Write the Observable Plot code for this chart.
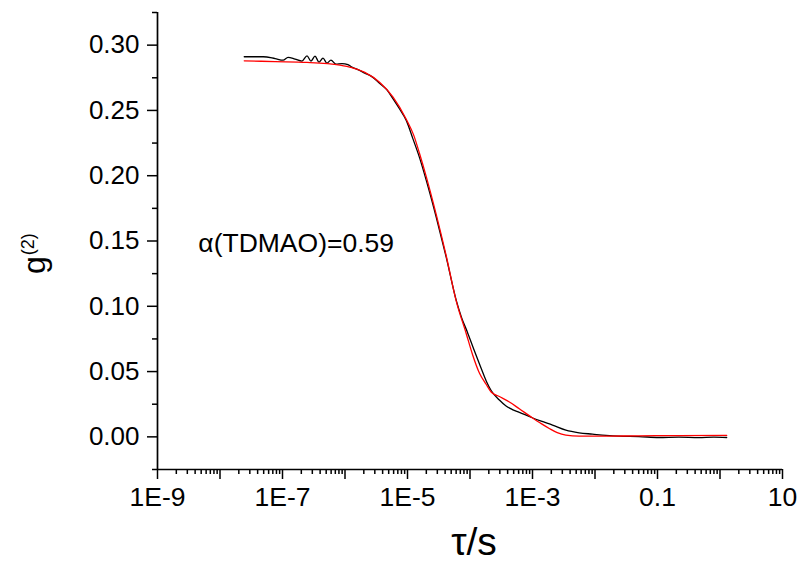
<!DOCTYPE html>
<html>
<head>
<meta charset="utf-8">
<script src="https://cdn.jsdelivr.net/npm/d3@7"></script>
<script src="https://cdn.jsdelivr.net/npm/@observablehq/plot@0.6"></script>
<style>
  html, body { margin: 0; padding: 0; background: #fff; }
</style>
</head>
<body>
<div id="chart"></div>
<script>
// Intensity autocorrelation g(2) versus delay time; pairs are [log10(τ / s), g(2)].
const measured = [
  [-7.612, 0.2911], [-7.309, 0.2911], [-7.118, 0.2897], [-6.990, 0.2885], [-6.911, 0.2906],
  [-6.799, 0.2893], [-6.688, 0.2878], [-6.608, 0.2918], [-6.544, 0.2878], [-6.480, 0.2916],
  [-6.416, 0.2870], [-6.352, 0.2901], [-6.289, 0.2862], [-6.225, 0.2885], [-6.145, 0.2855],
  [-6.049, 0.2858], [-5.954, 0.2851], [-5.890, 0.2832], [-5.794, 0.2812], [-5.683, 0.2786],
  [-5.571, 0.2759], [-5.443, 0.2707], [-5.332, 0.2659], [-5.236, 0.2592], [-5.124, 0.2509],
  [-5.018, 0.2422], [-4.917, 0.2288], [-4.805, 0.2135], [-4.694, 0.1955], [-4.539, 0.1680],
  [-4.380, 0.1375], [-4.220, 0.1045], [-4.136, 0.0915], [-4.040, 0.0800], [-3.944, 0.0677],
  [-3.833, 0.0539], [-3.737, 0.0424], [-3.662, 0.0355], [-3.530, 0.0282], [-3.423, 0.0236],
  [-3.322, 0.0209], [-3.211, 0.0188], [-3.024, 0.0150], [-2.860, 0.0120], [-2.680, 0.0090],
  [-2.466, 0.0051], [-2.254, 0.0031], [-2.041, 0.0021], [-1.823, 0.0011], [-1.616, 0.0005],
  [-1.297, 0.0002], [-0.978, -0.0005], [-0.659, -0.0002], [-0.340, -0.0006], [-0.100, -0.0002],
  [0.107, -0.0005]
];

// Fitted curve
const fit = [
  [-7.612, 0.2880], [-7.118, 0.2874], [-6.608, 0.2868], [-6.081, 0.2847], [-5.890, 0.2828],
  [-5.683, 0.2791], [-5.443, 0.2714], [-5.231, 0.2602], [-5.018, 0.2431], [-4.901, 0.2311],
  [-4.805, 0.2166], [-4.699, 0.1991], [-4.539, 0.1700], [-4.380, 0.1385], [-4.220, 0.1040],
  [-4.061, 0.0792], [-3.960, 0.0631], [-3.848, 0.0487], [-3.742, 0.0403], [-3.662, 0.0344],
  [-3.530, 0.0309], [-3.370, 0.0267], [-3.211, 0.0215], [-3.024, 0.0153], [-2.860, 0.0101],
  [-2.732, 0.0064], [-2.604, 0.0032], [-2.466, 0.0013], [-2.254, 0.0005], [-1.935, 0.0005],
  [-1.297, 0.0008], [-0.659, 0.0010], [0.107, 0.0011]
];

// Axis ticks
const decadeExponents = [-9, -8, -7, -6, -5, -4, -3, -2, -1, 0, 1];
const decadeLabels = ["1E-9", "", "1E-7", "", "1E-5", "", "1E-3", "", "0.1", "", "10"];
const yTicks = [0, 0.05, 0.10, 0.15, 0.20, 0.25, 0.30];
const yMinorTicks = [-0.025, 0.025, 0.075, 0.125, 0.175, 0.225, 0.275, 0.325];
const annotation = "α(TDMAO)=0.59";

const toPoint = ([e, g]) => ({tau: Math.pow(10, e), g});
const measuredData = measured.map(toPoint);
const fitData = fit.map(toPoint);

const xMajor = decadeExponents.map((e) => Math.pow(10, e));
const labelOf = new Map(decadeExponents.map((e, i) => [e, decadeLabels[i]]));
const xMinor = [];
for (const e of decadeExponents.slice(0, -1)) {
  for (let m = 2; m <= 9; m++) xMinor.push(m * Math.pow(10, e));
}

const font = "'Liberation Sans', Arial, sans-serif";

const chart = Plot.plot({
  width: 798,
  height: 565,
  marginLeft: 157,
  marginRight: 16,
  marginTop: 12,
  marginBottom: 96,
  style: {fontFamily: font, background: "#fff", color: "#000", overflow: "visible"},
  x: {type: "log", domain: [1e-9, 10]},
  y: {domain: [-0.025, 0.325]},
  marks: [
    Plot.axisX({ticks: xMajor, tickSize: 10, tickPadding: 8, strokeWidth: 1.5,
      tickFormat: (d) => labelOf.get(Math.round(Math.log10(d))) ?? "", fontSize: 26.5, label: null}),
    Plot.axisX({ticks: xMinor, tickSize: 5, strokeWidth: 1.5, tickFormat: () => "", label: null}),
    Plot.axisY({ticks: yTicks, tickSize: 10, tickPadding: 8, strokeWidth: 1.5,
      tickFormat: d3.format(".2f"), fontSize: 26, label: null}),
    Plot.axisY({ticks: yMinorTicks, tickSize: 5, strokeWidth: 1.5, tickFormat: () => "", label: null}),
    Plot.ruleX([1e-9], {strokeWidth: 1.7}),
    Plot.ruleY([-0.025], {strokeWidth: 1.7}),
    Plot.line(measuredData, {x: "tau", y: "g", stroke: "#000", strokeWidth: 1.3, curve: "monotone-x"}),
    Plot.line(fitData, {x: "tau", y: "g", stroke: "#ff0000", strokeWidth: 1.3, curve: "monotone-x"}),
    Plot.text([annotation], {x: () => 4.5e-9, y: () => 0.148, text: (d) => d,
      textAnchor: "start", lineAnchor: "middle", fontSize: 26.5, fill: "#000"}),
    // x-axis title
    Plot.text(["τ/s"], {frameAnchor: "bottom", dx: 4, dy: 73, text: (d) => d,
      lineAnchor: "middle", fontSize: 39, fill: "#000"})
  ]
});

// y-axis title: g with a raised (2), rotated to read upward
const yTitle = d3.select(chart).append("text")
  .attr("transform", "translate(45,274) rotate(-90)")
  .attr("text-anchor", "start")
  .attr("font-family", font)
  .attr("fill", "#000");
yTitle.append("tspan").attr("font-size", 32).text("g");
yTitle.append("tspan").attr("font-size", 18).attr("dy", -11).attr("dx", 1).text("(2)");

document.getElementById("chart").appendChild(chart);
</script>
</body>
</html>
